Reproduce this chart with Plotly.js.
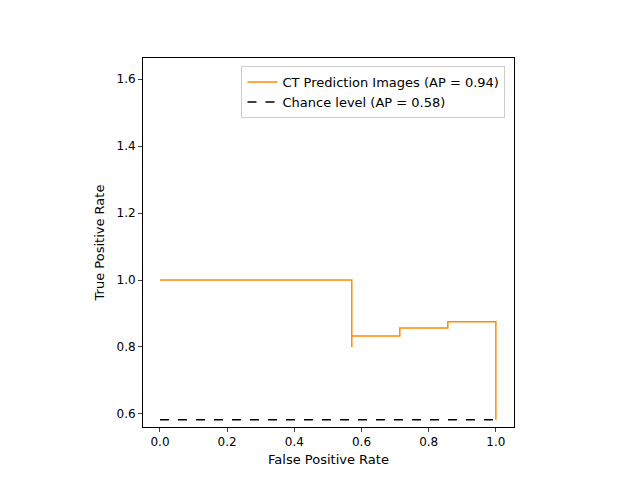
<!DOCTYPE html>
<html><head><script src="https://cdn.plot.ly/plotly-3.0.1.min.js"></script></head>
<body style="margin:0">
<div id="c" style="width:640px;height:480px"></div>
<script>
const recall = [0, 0.571, 0.571, 0.571, 0.714, 0.714, 0.857, 0.857, 1.0, 1.0];
const precision = [1.0, 1.0, 0.8, 0.833, 0.833, 0.857, 0.857, 0.875, 0.875, 0.583];
const chanceX = [0, 1];
const chanceY = [0.583, 0.583];
const tickVals = [0, 0.2, 0.4, 0.6, 0.8, 1.0];
const tickText = ['0.0','0.2','0.4','0.6','0.8','1.0'];
const yTickVals = [0.6, 0.8, 1.0, 1.2, 1.4, 1.6];
const yTickText = ['0.6','0.8','1.0','1.2','1.4','1.6'];
const traces = [
 {x: recall, y: precision, mode: 'lines', name: 'CT Prediction Images (AP = 0.94)', line: {color: '#ff8c00', width: 1.5}},
 {x: chanceX, y: chanceY, mode: 'lines', name: 'Chance level (AP = 0.58)', line: {color: 'black', width: 1.5, dash: 'dash'}}
];
const layout = {
 width: 640, height: 480, margin: {l: 143, r: 126, t: 58, b: 53},
 paper_bgcolor: 'white', plot_bgcolor: 'white',
 font: {family: 'DejaVu Sans', size: 12, color: 'black'},
 showlegend: true,
 legend: {x: 0.977, y: 0.978, xanchor: 'right', yanchor: 'top', bordercolor: '#cccccc', borderwidth: 1, bgcolor: 'rgba(255,255,255,0.8)', font: {size: 13}, tracegroupgap: 0},
 xaxis: {range: [-0.0506, 1.054], tickvals: tickVals, ticktext: tickText, showgrid: false, zeroline: false, showline: true, mirror: true, linecolor: 'black', ticks: 'outside', ticklen: 4, title: {text: 'False Positive Rate', standoff: 6, font: {size: 13}}},
 yaxis: {range: [0.561, 1.663], tickvals: yTickVals, ticktext: yTickText, showgrid: false, zeroline: false, showline: true, mirror: true, linecolor: 'black', ticks: 'outside', ticklen: 4, title: {text: 'True Positive Rate', standoff: 8, font: {size: 13}}}
};
Plotly.newPlot('c', traces, layout, {displayModeBar: false});
</script></body></html>
